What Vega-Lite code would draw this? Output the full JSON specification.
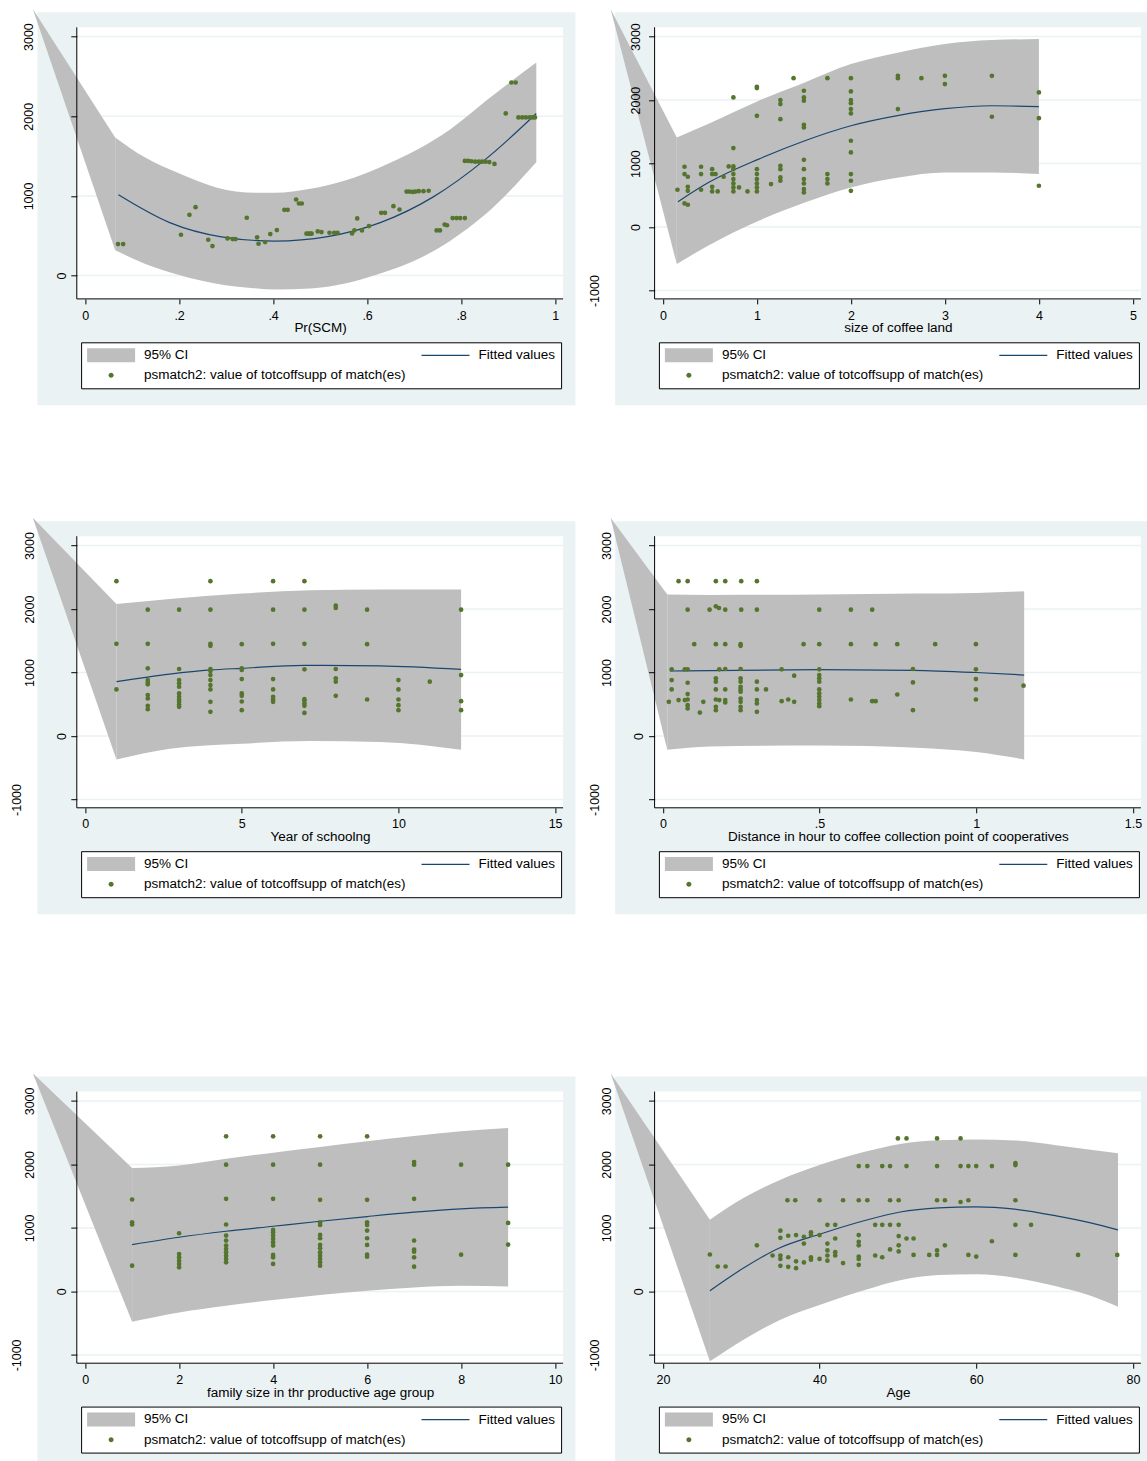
{
"$schema": "https://vega.github.io/schema/vega-lite/v6.json",
"background": "white",
"padding": {"left": 10.4, "top": 8.3, "right": 0, "bottom": 0},
"config": {
  "font": "Liberation Sans",
  "view": {"fill": "#eaf2f3", "stroke": null},
  "axis": {"domain": false, "grid": false, "ticks": true, "tickColor": "black", "tickWidth": 1, "labelColor": "black", "labelFont": "Liberation Sans", "labelFontSize": 12.5, "labelFlush": false, "labelOverlap": false, "labelBound": false, "titleFont": "Liberation Sans", "titleFontSize": 13.5, "titleFontWeight": "normal", "titleColor": "black"},
  "axisX": {"tickSize": 5, "labelPadding": 5.2, "labelAngle": 0, "labelBaseline": "top", "labelAlign": "center", "offset": -106.4, "titleX": 282.7, "titleY": 22, "titleAlign": "center", "titleBaseline": "top"},
  "axisY": {"tickSize": 6, "labelAngle": 270, "labelAlign": "center", "labelBaseline": "alphabetic", "offset": -39.4},
  "legend": {"title": null, "orient": "none", "direction": "horizontal", "legendX": 43.7, "legendY": 330, "columns": 2, "columnPadding": 15.4, "rowPadding": 5.3, "padding": 6, "fillColor": "white", "strokeColor": "black", "cornerRadius": 0, "symbolSize": 100, "symbolStrokeWidth": 0, "symbolOpacity": 1, "labelOffset": 43.5, "labelFont": "Liberation Sans", "labelFontSize": 13.5, "labelColor": "black", "labelLimit": 0, "labelBaseline": "middle"}
},
"spacing": 158.3,
"resolve": {"scale": {"color": "independent"}, "legend": {"color": "independent"}},
"vconcat": [
{
"spacing": 111.9,
"resolve": {"scale": {"color": "independent"}, "legend": {"color": "independent"}},
"vconcat": [
{
"hconcat": [
{
"width": 538, "height": 393,
"data": {"values": [{}]},
"layer": [
{"mark": {"type": "rect", "fill": "white"},
 "encoding": {
  "x": {"datum": -0.01766, "type": "quantitative", "scale": {"domain": [-0.10149, 1.04319], "nice": false, "zero": false},
        "axis": {"zindex": 1, "values": [0, 0.2, 0.4, 0.6, 0.8, 1], "title": "Pr(SCM)", "labelExpr": "datum.value == 0 ? '0' : datum.value == 1 ? '1' : '.' + round(datum.value * 10)"}},
  "x2": {"datum": 1.01702},
  "y": {"datum": -292.5, "type": "quantitative", "scale": {"domain": [-1627.97, 3304.9], "nice": false, "zero": false},
        "axis": {"zindex": 1, "values": [0, 1000, 2000, 3000], "title": null, "labelExpr": "toString(datum.value)", "labelPadding": {"expr": "datum.value == 0 ? 5.7 : 38.7"}}},
  "y2": {"datum": 3116.6}}},
{"data": {"values": [{"v": 0}, {"v": 1000}, {"v": 2000}, {"v": 3000}]},
 "mark": {"type": "rule", "color": "#eaf2f3", "strokeWidth": 1.5},
 "encoding": {"x": {"datum": -0.01766, "type": "quantitative"}, "x2": {"datum": 1.01702}, "y": {"field": "v", "type": "quantitative"}}},
{"data": {"values": [{"x": -0.11128, "lo": 3347.6, "hi": 3347.6}, {"x": 0.064, "lo": 317, "hi": 1735}]},
 "mark": {"type": "area", "opacity": 1},
 "encoding": {"x": {"field": "x", "type": "quantitative"}, "y": {"field": "hi", "type": "quantitative"}, "y2": {"field": "lo"},
  "color": {"datum": "95% CI", "type": "nominal",
   "scale": {"domain": ["95% CI", "Fitted values", "psmatch2: value of totcoffsupp of match(es)"], "range": ["#bebebe", "#1a476f", "#55752f"]},
   "legend": {"symbolType": {"expr": "datum.value === '95% CI' ? 'M-1.35,-1.4H8.25V1.4H-1.35Z' : datum.value === 'Fitted values' ? 'M-1.35,-0.12H8.25V0.12H-1.35Z' : 'M3.95,0A0.5,0.5,0,1,1,2.95,0A0.5,0.5,0,1,1,3.95,0Z'"}, "symbolFillColor": {"expr": "datum.value === '95% CI' ? '#bebebe' : datum.value === 'Fitted values' ? '#1a476f' : '#55752f'"}}}}},
{"data": {"values": [{"x":0.064,"lo":317,"hi":1735},{"x":0.127,"lo":150,"hi":1485},{"x":0.202,"lo":4,"hi":1277},{"x":0.277,"lo":-100,"hi":1110},{"x":0.366,"lo":-163,"hi":1039},{"x":0.404,"lo":-175,"hi":1039},{"x":0.479,"lo":-163,"hi":1089},{"x":0.553,"lo":-100,"hi":1193},{"x":0.628,"lo":25,"hi":1360},{"x":0.703,"lo":192,"hi":1569},{"x":0.778,"lo":442,"hi":1840},{"x":0.853,"lo":776,"hi":2194},{"x":0.96,"lo":1423,"hi":2674}]},
 "mark": {"type": "area", "interpolate": "monotone", "opacity": 1},
 "encoding": {"x": {"field": "x", "type": "quantitative"}, "y": {"field": "hi", "type": "quantitative"}, "y2": {"field": "lo"}, "color": {"datum": "95% CI", "type": "nominal"}}},
{"data": {"values": [{"x":0.071,"y":1014},{"x":0.18,"y":665},{"x":0.29,"y":487},{"x":0.404,"y":434},{"x":0.516,"y":490},{"x":0.628,"y":665},{"x":0.74,"y":985},{"x":0.853,"y":1465},{"x":0.96,"y":2035}]},
 "mark": {"type": "line", "interpolate": "monotone", "strokeWidth": 1.2},
 "encoding": {"x": {"field": "x", "type": "quantitative"}, "y": {"field": "y", "type": "quantitative"}, "color": {"datum": "Fitted values", "type": "nominal"}}},
{"data": {"values": [{"x":0.070,"y":396},{"x":0.081,"y":396},{"x":0.204,"y":513},{"x":0.222,"y":763},{"x":0.235,"y":859},{"x":0.262,"y":450},{"x":0.271,"y":371},{"x":0.303,"y":467},{"x":0.314,"y":459},{"x":0.320,"y":459},{"x":0.344,"y":726},{"x":0.366,"y":480},{"x":0.369,"y":400},{"x":0.383,"y":421},{"x":0.394,"y":521},{"x":0.408,"y":572},{"x":0.424,"y":826},{"x":0.431,"y":826},{"x":0.449,"y":955},{"x":0.455,"y":905},{"x":0.461,"y":905},{"x":0.471,"y":526},{"x":0.475,"y":526},{"x":0.479,"y":526},{"x":0.482,"y":526},{"x":0.495,"y":555},{"x":0.503,"y":546},{"x":0.520,"y":538},{"x":0.530,"y":538},{"x":0.537,"y":538},{"x":0.568,"y":530},{"x":0.573,"y":567},{"x":0.579,"y":718},{"x":0.589,"y":567},{"x":0.604,"y":622},{"x":0.630,"y":788},{"x":0.638,"y":788},{"x":0.656,"y":872},{"x":0.669,"y":830},{"x":0.684,"y":1055},{"x":0.690,"y":1055},{"x":0.697,"y":1050},{"x":0.703,"y":1055},{"x":0.710,"y":1060},{"x":0.720,"y":1060},{"x":0.731,"y":1065},{"x":0.748,"y":567},{"x":0.755,"y":567},{"x":0.765,"y":640},{"x":0.770,"y":632},{"x":0.782,"y":722},{"x":0.790,"y":722},{"x":0.798,"y":722},{"x":0.808,"y":722},{"x":0.808,"y":1440},{"x":0.815,"y":1440},{"x":0.822,"y":1435},{"x":0.830,"y":1430},{"x":0.838,"y":1430},{"x":0.845,"y":1430},{"x":0.852,"y":1430},{"x":0.860,"y":1425},{"x":0.871,"y":1402},{"x":0.895,"y":2036},{"x":0.907,"y":2424},{"x":0.916,"y":2424},{"x":0.922,"y":1986},{"x":0.930,"y":1986},{"x":0.938,"y":1986},{"x":0.946,"y":1986},{"x":0.952,"y":1986},{"x":0.957,"y":1986}]},
 "mark": {"type": "point", "filled": true, "size": 22, "opacity": 1},
 "encoding": {"x": {"field": "x", "type": "quantitative"}, "y": {"field": "y", "type": "quantitative"}, "color": {"datum": "psmatch2: value of totcoffsupp of match(es)", "type": "nominal"}}},
{"mark": {"type": "rule", "color": "black", "strokeWidth": 1},
 "encoding": {"x": {"datum": -0.01766, "type": "quantitative"}, "y": {"datum": -292.5, "type": "quantitative"}, "y2": {"datum": 3116.6}}},
{"mark": {"type": "rule", "color": "black", "strokeWidth": 1},
 "encoding": {"x": {"datum": -0.01766, "type": "quantitative"}, "x2": {"datum": 1.01702}, "y": {"datum": -292.5, "type": "quantitative"}}}
]
},
{
"width": 538, "height": 393,
"data": {"values": [{}]},
"layer": [
{"mark": {"type": "rect", "fill": "white"},
 "encoding": {
  "x": {"datum": -0.0883, "type": "quantitative", "scale": {"domain": [-0.50745, 5.21595], "nice": false, "zero": false},
        "axis": {"zindex": 1, "values": [0, 1, 2, 3, 4, 5], "title": "size of coffee land", "labelExpr": "toString(datum.value)"}},
  "x2": {"datum": 5.0851},
  "y": {"datum": -1130.7, "type": "quantitative", "scale": {"domain": [-2806.3, 3382.7], "nice": false, "zero": false},
        "axis": {"zindex": 1, "values": [-1000, 0, 1000, 2000, 3000], "title": null, "labelExpr": "toString(datum.value)", "labelPadding": {"expr": "datum.value < 0 ? 50.3 : 9.3"}}},
  "y2": {"datum": 3146.5}}},
{"data": {"values": [{"v": -1000}, {"v": 0}, {"v": 1000}, {"v": 2000}, {"v": 3000}]},
 "mark": {"type": "rule", "color": "#eaf2f3", "strokeWidth": 1.5},
 "encoding": {"x": {"datum": -0.0883, "type": "quantitative"}, "x2": {"datum": 5.0851}, "y": {"field": "v", "type": "quantitative"}}},
{"data": {"values": [{"x": -0.5564, "lo": 3436.2, "hi": 3436.2}, {"x": 0.148, "lo": -583, "hi": 1412}]},
 "mark": {"type": "area", "opacity": 1},
 "encoding": {"x": {"field": "x", "type": "quantitative"}, "y": {"field": "hi", "type": "quantitative"}, "y2": {"field": "lo"},
  "color": {"datum": "95% CI", "type": "nominal",
   "scale": {"domain": ["95% CI", "Fitted values", "psmatch2: value of totcoffsupp of match(es)"], "range": ["#bebebe", "#1a476f", "#55752f"]},
   "legend": {"symbolType": {"expr": "datum.value === '95% CI' ? 'M-1.35,-1.4H8.25V1.4H-1.35Z' : datum.value === 'Fitted values' ? 'M-1.35,-0.12H8.25V0.12H-1.35Z' : 'M3.95,0A0.5,0.5,0,1,1,2.95,0A0.5,0.5,0,1,1,3.95,0Z'"}, "symbolFillColor": {"expr": "datum.value === '95% CI' ? '#bebebe' : datum.value === 'Fitted values' ? '#1a476f' : '#55752f'"}}}}},
{"data": {"values": [{"x":0.148,"lo":-583,"hi":1412},{"x":0.48,"lo":-294,"hi":1622},{"x":1.02,"lo":100,"hi":1990},{"x":1.51,"lo":388,"hi":2278},{"x":2.0,"lo":625,"hi":2567},{"x":2.51,"lo":782,"hi":2751},{"x":3.0,"lo":861,"hi":2882},{"x":3.5,"lo":861,"hi":2945},{"x":4.0,"lo":835,"hi":2961}]},
 "mark": {"type": "area", "interpolate": "monotone", "opacity": 1},
 "encoding": {"x": {"field": "x", "type": "quantitative"}, "y": {"field": "hi", "type": "quantitative"}, "y2": {"field": "lo"}, "color": {"datum": "95% CI", "type": "nominal"}}},
{"data": {"values": [{"x":0.16,"y":399},{"x":0.48,"y":697},{"x":1.02,"y":1071},{"x":1.51,"y":1360},{"x":2.0,"y":1596},{"x":2.51,"y":1760},{"x":3.0,"y":1865},{"x":3.5,"y":1911},{"x":4.0,"y":1898}]},
 "mark": {"type": "line", "interpolate": "monotone", "strokeWidth": 1.2},
 "encoding": {"x": {"field": "x", "type": "quantitative"}, "y": {"field": "y", "type": "quantitative"}, "color": {"datum": "Fitted values", "type": "nominal"}}},
{"data": {"values": [{"x":0.155,"y":588},{"x":0.23,"y":950},{"x":0.23,"y":835},{"x":0.265,"y":793},{"x":0.23,"y":373},{"x":0.265,"y":352},{"x":0.265,"y":635},{"x":0.265,"y":572},{"x":0.406,"y":950},{"x":0.406,"y":835},{"x":0.406,"y":588},{"x":0.524,"y":913},{"x":0.524,"y":835},{"x":0.524,"y":635},{"x":0.524,"y":562},{"x":0.56,"y":835},{"x":0.583,"y":562},{"x":0.646,"y":793},{"x":0.70,"y":955},{"x":0.75,"y":2042},{"x":0.75,"y":1244},{"x":0.75,"y":955},{"x":0.75,"y":913},{"x":0.75,"y":835},{"x":0.75,"y":756},{"x":0.75,"y":688},{"x":0.75,"y":625},{"x":0.75,"y":562},{"x":0.81,"y":625},{"x":0.9,"y":562},{"x":1.0,"y":2190},{"x":1.0,"y":2210},{"x":1.0,"y":1753},{"x":1.0,"y":913},{"x":1.0,"y":835},{"x":1.0,"y":756},{"x":1.0,"y":688},{"x":1.0,"y":625},{"x":1.0,"y":562},{"x":1.15,"y":677},{"x":1.25,"y":2000},{"x":1.25,"y":1937},{"x":1.25,"y":1700},{"x":1.25,"y":966},{"x":1.25,"y":913},{"x":1.25,"y":782},{"x":1.25,"y":730},{"x":1.39,"y":2346},{"x":1.5,"y":2147},{"x":1.5,"y":2042},{"x":1.5,"y":1990},{"x":1.5,"y":1611},{"x":1.5,"y":1570},{"x":1.5,"y":1060},{"x":1.5,"y":913},{"x":1.5,"y":756},{"x":1.5,"y":688},{"x":1.5,"y":600},{"x":1.5,"y":546},{"x":1.75,"y":2346},{"x":1.75,"y":835},{"x":1.75,"y":756},{"x":1.75,"y":688},{"x":2.0,"y":2346},{"x":2.0,"y":2136},{"x":2.0,"y":2000},{"x":2.0,"y":1950},{"x":2.0,"y":1860},{"x":2.0,"y":1790},{"x":2.0,"y":1360},{"x":2.0,"y":1176},{"x":2.0,"y":835},{"x":2.0,"y":730},{"x":2.0,"y":572},{"x":2.5,"y":2383},{"x":2.5,"y":2346},{"x":2.5,"y":1858},{"x":2.75,"y":2346},{"x":3.0,"y":2383},{"x":3.0,"y":2252},{"x":3.5,"y":2383},{"x":3.5,"y":1738},{"x":4.0,"y":2121},{"x":4.0,"y":1716},{"x":4.0,"y":651}]},
 "mark": {"type": "point", "filled": true, "size": 22, "opacity": 1},
 "encoding": {"x": {"field": "x", "type": "quantitative"}, "y": {"field": "y", "type": "quantitative"}, "color": {"datum": "psmatch2: value of totcoffsupp of match(es)", "type": "nominal"}}},
{"mark": {"type": "rule", "color": "black", "strokeWidth": 1},
 "encoding": {"x": {"datum": -0.0883, "type": "quantitative"}, "y": {"datum": -1130.7, "type": "quantitative"}, "y2": {"datum": 3146.5}}},
{"mark": {"type": "rule", "color": "black", "strokeWidth": 1},
 "encoding": {"x": {"datum": -0.0883, "type": "quantitative"}, "x2": {"datum": 5.0851}, "y": {"datum": -1130.7, "type": "quantitative"}}}
]
}
],
"spacing": 12.8,
"resolve": {"scale": {"color": "independent"}, "legend": {"color": "independent"}}
},
{
"hconcat": [
{
"width": 538, "height": 393,
"data": {"values": [{}]},
"layer": [
{"mark": {"type": "rect", "fill": "white"},
 "encoding": {
  "x": {"datum": -0.2649, "type": "quantitative", "scale": {"domain": [-1.52235, 15.64785], "nice": false, "zero": false},
        "axis": {"zindex": 1, "values": [0, 5, 10, 15], "title": "Year of schoolng", "labelExpr": "toString(datum.value)"}},
  "x2": {"datum": 15.2553},
  "y": {"datum": -1130.7, "type": "quantitative", "scale": {"domain": [-2806.3, 3382.7], "nice": false, "zero": false},
        "axis": {"zindex": 1, "values": [-1000, 0, 1000, 2000, 3000], "title": null, "labelExpr": "toString(datum.value)", "labelPadding": {"expr": "datum.value == 0 ? 5.7 : datum.value < 0 ? 50.3 : 37.7"}}},
  "y2": {"datum": 3146.5}}},
{"data": {"values": [{"v": -1000}, {"v": 0}, {"v": 1000}, {"v": 2000}, {"v": 3000}]},
 "mark": {"type": "rule", "color": "#eaf2f3", "strokeWidth": 1.5},
 "encoding": {"x": {"datum": -0.2649, "type": "quantitative"}, "x2": {"datum": 15.2553}, "y": {"field": "v", "type": "quantitative"}}},
{"data": {"values": [{"x": -1.6692, "lo": 3436.2, "hi": 3436.2}, {"x": 1, "lo": -369, "hi": 2079}]},
 "mark": {"type": "area", "opacity": 1},
 "encoding": {"x": {"field": "x", "type": "quantitative"}, "y": {"field": "hi", "type": "quantitative"}, "y2": {"field": "lo"},
  "color": {"datum": "95% CI", "type": "nominal",
   "scale": {"domain": ["95% CI", "Fitted values", "psmatch2: value of totcoffsupp of match(es)"], "range": ["#bebebe", "#1a476f", "#55752f"]},
   "legend": {"symbolType": {"expr": "datum.value === '95% CI' ? 'M-1.35,-1.4H8.25V1.4H-1.35Z' : datum.value === 'Fitted values' ? 'M-1.35,-0.12H8.25V0.12H-1.35Z' : 'M3.95,0A0.5,0.5,0,1,1,2.95,0A0.5,0.5,0,1,1,3.95,0Z'"}, "symbolFillColor": {"expr": "datum.value === '95% CI' ? '#bebebe' : datum.value === 'Fitted values' ? '#1a476f' : '#55752f'"}}}}},
{"data": {"values": [{"x":1,"lo":-369,"hi":2079},{"x":2.7,"lo":-200,"hi":2158},{"x":5,"lo":-121,"hi":2243},{"x":7.2,"lo":-79,"hi":2296},{"x":9.4,"lo":-95,"hi":2306},{"x":12,"lo":-216,"hi":2306}]},
 "mark": {"type": "area", "interpolate": "monotone", "opacity": 1},
 "encoding": {"x": {"field": "x", "type": "quantitative"}, "y": {"field": "hi", "type": "quantitative"}, "y2": {"field": "lo"}, "color": {"datum": "95% CI", "type": "nominal"}}},
{"data": {"values": [{"x":1,"y":855},{"x":2.7,"y":975},{"x":4,"y":1040},{"x":5,"y":1066},{"x":7,"y":1112},{"x":9.4,"y":1104},{"x":12,"y":1048}]},
 "mark": {"type": "line", "interpolate": "monotone", "strokeWidth": 1.2},
 "encoding": {"x": {"field": "x", "type": "quantitative"}, "y": {"field": "y", "type": "quantitative"}, "color": {"datum": "Fitted values", "type": "nominal"}}},
{"data": {"values": [{"x":1,"y":2438},{"x":1,"y":1451},{"x":1,"y":733},{"x":2,"y":1989},{"x":2,"y":1451},{"x":2,"y":1066},{"x":2,"y":881},{"x":2,"y":844},{"x":2,"y":813},{"x":2,"y":644},{"x":2,"y":591},{"x":2,"y":475},{"x":2,"y":422},{"x":3,"y":1989},{"x":3,"y":1055},{"x":3,"y":881},{"x":3,"y":829},{"x":3,"y":776},{"x":3,"y":670},{"x":3,"y":617},{"x":3,"y":575},{"x":3,"y":538},{"x":3,"y":496},{"x":3,"y":459},{"x":4,"y":2438},{"x":4,"y":1989},{"x":4,"y":1451},{"x":4,"y":1420},{"x":4,"y":1055},{"x":4,"y":1024},{"x":4,"y":960},{"x":4,"y":881},{"x":4,"y":802},{"x":4,"y":733},{"x":4,"y":538},{"x":4,"y":380},{"x":5,"y":1446},{"x":5,"y":1066},{"x":5,"y":1040},{"x":5,"y":897},{"x":5,"y":670},{"x":5,"y":633},{"x":5,"y":543},{"x":5,"y":406},{"x":6,"y":2438},{"x":6,"y":1989},{"x":6,"y":1451},{"x":6,"y":897},{"x":6,"y":733},{"x":6,"y":617},{"x":6,"y":575},{"x":6,"y":538},{"x":7,"y":2438},{"x":7,"y":1989},{"x":7,"y":1451},{"x":7,"y":1050},{"x":7,"y":580},{"x":7,"y":554},{"x":7,"y":512},{"x":7,"y":475},{"x":7,"y":364},{"x":8,"y":2053},{"x":8,"y":2016},{"x":8,"y":1055},{"x":8,"y":908},{"x":8,"y":855},{"x":8,"y":633},{"x":9,"y":1989},{"x":9,"y":1446},{"x":9,"y":575},{"x":10,"y":881},{"x":10,"y":733},{"x":10,"y":575},{"x":10,"y":485},{"x":10,"y":406},{"x":11,"y":855},{"x":12,"y":1989},{"x":12,"y":960},{"x":12,"y":549},{"x":12,"y":406}]},
 "mark": {"type": "point", "filled": true, "size": 22, "opacity": 1},
 "encoding": {"x": {"field": "x", "type": "quantitative"}, "y": {"field": "y", "type": "quantitative"}, "color": {"datum": "psmatch2: value of totcoffsupp of match(es)", "type": "nominal"}}},
{"mark": {"type": "rule", "color": "black", "strokeWidth": 1},
 "encoding": {"x": {"datum": -0.2649, "type": "quantitative"}, "y": {"datum": -1130.7, "type": "quantitative"}, "y2": {"datum": 3146.5}}},
{"mark": {"type": "rule", "color": "black", "strokeWidth": 1},
 "encoding": {"x": {"datum": -0.2649, "type": "quantitative"}, "x2": {"datum": 15.2553}, "y": {"datum": -1130.7, "type": "quantitative"}}}
]
},
{
"width": 538, "height": 393,
"data": {"values": [{}]},
"layer": [
{"mark": {"type": "rect", "fill": "white"},
 "encoding": {
  "x": {"datum": -0.02649, "type": "quantitative", "scale": {"domain": [-0.152235, 1.564785], "nice": false, "zero": false},
        "axis": {"zindex": 1, "values": [0, 0.5, 1, 1.5], "title": "Distance in hour to coffee collection point of cooperatives", "labelExpr": "datum.value == 0.5 ? '.5' : toString(datum.value)"}},
  "x2": {"datum": 1.52553},
  "y": {"datum": -1130.7, "type": "quantitative", "scale": {"domain": [-2806.3, 3382.7], "nice": false, "zero": false},
        "axis": {"zindex": 1, "values": [-1000, 0, 1000, 2000, 3000], "title": null, "labelExpr": "toString(datum.value)", "labelPadding": {"expr": "datum.value == 0 ? 5.7 : datum.value < 0 ? 50.3 : 37.7"}}},
  "y2": {"datum": 3146.5}}},
{"data": {"values": [{"v": -1000}, {"v": 0}, {"v": 1000}, {"v": 2000}, {"v": 3000}]},
 "mark": {"type": "rule", "color": "#eaf2f3", "strokeWidth": 1.5},
 "encoding": {"x": {"datum": -0.02649, "type": "quantitative"}, "x2": {"datum": 1.52553}, "y": {"field": "v", "type": "quantitative"}}},
{"data": {"values": [{"x": -0.16692, "lo": 3436.2, "hi": 3436.2}, {"x": 0.014, "lo": -216, "hi": 2227}]},
 "mark": {"type": "area", "opacity": 1},
 "encoding": {"x": {"field": "x", "type": "quantitative"}, "y": {"field": "hi", "type": "quantitative"}, "y2": {"field": "lo"},
  "color": {"datum": "95% CI", "type": "nominal",
   "scale": {"domain": ["95% CI", "Fitted values", "psmatch2: value of totcoffsupp of match(es)"], "range": ["#bebebe", "#1a476f", "#55752f"]},
   "legend": {"symbolType": {"expr": "datum.value === '95% CI' ? 'M-1.35,-1.4H8.25V1.4H-1.35Z' : datum.value === 'Fitted values' ? 'M-1.35,-0.12H8.25V0.12H-1.35Z' : 'M3.95,0A0.5,0.5,0,1,1,2.95,0A0.5,0.5,0,1,1,3.95,0Z'"}, "symbolFillColor": {"expr": "datum.value === '95% CI' ? '#bebebe' : datum.value === 'Fitted values' ? '#1a476f' : '#55752f'"}}}}},
{"data": {"values": [{"x":0.014,"lo":-216,"hi":2227},{"x":0.149,"lo":-164,"hi":2222},{"x":0.5,"lo":-148,"hi":2227},{"x":0.81,"lo":-185,"hi":2243},{"x":1.0,"lo":-253,"hi":2253},{"x":1.153,"lo":-369,"hi":2280}]},
 "mark": {"type": "area", "interpolate": "monotone", "opacity": 1},
 "encoding": {"x": {"field": "x", "type": "quantitative"}, "y": {"field": "hi", "type": "quantitative"}, "y2": {"field": "lo"}, "color": {"datum": "95% CI", "type": "nominal"}}},
{"data": {"values": [{"x":0.022,"y":1024},{"x":0.5,"y":1045},{"x":0.8,"y":1035},{"x":1.0,"y":1000},{"x":1.153,"y":960}]},
 "mark": {"type": "line", "interpolate": "monotone", "strokeWidth": 1.2},
 "encoding": {"x": {"field": "x", "type": "quantitative"}, "y": {"field": "y", "type": "quantitative"}, "color": {"datum": "Fitted values", "type": "nominal"}}},
{"data": {"values": [{"x":0.05,"y":2438},{"x":0.079,"y":2438},{"x":0.169,"y":2438},{"x":0.199,"y":2438},{"x":0.25,"y":2438},{"x":0.30,"y":2438},{"x":0.079,"y":1989},{"x":0.149,"y":1989},{"x":0.169,"y":2042},{"x":0.179,"y":2016},{"x":0.199,"y":1989},{"x":0.25,"y":1989},{"x":0.30,"y":1989},{"x":0.499,"y":1989},{"x":0.6,"y":1989},{"x":0.668,"y":1989},{"x":0.1,"y":1446},{"x":0.169,"y":1446},{"x":0.199,"y":1446},{"x":0.248,"y":1446},{"x":0.248,"y":1420},{"x":0.449,"y":1446},{"x":0.499,"y":1446},{"x":0.6,"y":1446},{"x":0.679,"y":1446},{"x":0.748,"y":1446},{"x":0.869,"y":1446},{"x":0.999,"y":1446},{"x":0.028,"y":1050},{"x":0.07,"y":1050},{"x":0.079,"y":1050},{"x":0.18,"y":1050},{"x":0.199,"y":1055},{"x":0.248,"y":1055},{"x":0.379,"y":1050},{"x":0.499,"y":1050},{"x":0.798,"y":1055},{"x":0.999,"y":1050},{"x":0.419,"y":950},{"x":0.499,"y":960},{"x":0.499,"y":908},{"x":0.499,"y":855},{"x":0.028,"y":881},{"x":0.079,"y":839},{"x":0.169,"y":908},{"x":0.169,"y":855},{"x":0.248,"y":908},{"x":0.248,"y":855},{"x":0.30,"y":855},{"x":0.798,"y":844},{"x":0.999,"y":897},{"x":0.028,"y":733},{"x":0.079,"y":660},{"x":0.169,"y":733},{"x":0.199,"y":733},{"x":0.248,"y":776},{"x":0.248,"y":733},{"x":0.248,"y":697},{"x":0.30,"y":733},{"x":0.329,"y":733},{"x":0.499,"y":733},{"x":0.499,"y":670},{"x":0.499,"y":617},{"x":0.748,"y":654},{"x":0.999,"y":733},{"x":0.019,"y":538},{"x":0.05,"y":565},{"x":0.07,"y":565},{"x":0.079,"y":575},{"x":0.129,"y":538},{"x":0.169,"y":575},{"x":0.18,"y":565},{"x":0.199,"y":565},{"x":0.199,"y":528},{"x":0.248,"y":591},{"x":0.248,"y":538},{"x":0.30,"y":565},{"x":0.30,"y":512},{"x":0.379,"y":549},{"x":0.4,"y":575},{"x":0.419,"y":538},{"x":0.499,"y":565},{"x":0.499,"y":512},{"x":0.499,"y":470},{"x":0.6,"y":575},{"x":0.668,"y":549},{"x":0.679,"y":549},{"x":0.999,"y":575},{"x":0.079,"y":485},{"x":0.079,"y":433},{"x":0.118,"y":369},{"x":0.169,"y":459},{"x":0.169,"y":406},{"x":0.248,"y":459},{"x":0.248,"y":406},{"x":0.30,"y":380},{"x":0.798,"y":406},{"x":1.151,"y":792}]},
 "mark": {"type": "point", "filled": true, "size": 22, "opacity": 1},
 "encoding": {"x": {"field": "x", "type": "quantitative"}, "y": {"field": "y", "type": "quantitative"}, "color": {"datum": "psmatch2: value of totcoffsupp of match(es)", "type": "nominal"}}},
{"mark": {"type": "rule", "color": "black", "strokeWidth": 1},
 "encoding": {"x": {"datum": -0.02649, "type": "quantitative"}, "y": {"datum": -1130.7, "type": "quantitative"}, "y2": {"datum": 3146.5}}},
{"mark": {"type": "rule", "color": "black", "strokeWidth": 1},
 "encoding": {"x": {"datum": -0.02649, "type": "quantitative"}, "x2": {"datum": 1.52553}, "y": {"datum": -1130.7, "type": "quantitative"}}}
]
}
],
"spacing": 12.8,
"resolve": {"scale": {"color": "independent"}, "legend": {"color": "independent"}}
}
]
},
{
"hconcat": [
{
"width": 538, "height": 393,
"data": {"values": [{}]},
"layer": [
{"mark": {"type": "rect", "fill": "white"},
 "encoding": {
  "x": {"datum": -0.1766, "type": "quantitative", "scale": {"domain": [-1.0149, 10.4319], "nice": false, "zero": false},
        "axis": {"zindex": 1, "values": [0, 2, 4, 6, 8, 10], "title": "family size in thr productive age group", "labelExpr": "toString(datum.value)"}},
  "x2": {"datum": 10.1702},
  "y": {"datum": -1130.7, "type": "quantitative", "scale": {"domain": [-2806.3, 3382.7], "nice": false, "zero": false},
        "axis": {"zindex": 1, "values": [-1000, 0, 1000, 2000, 3000], "title": null, "labelExpr": "toString(datum.value)", "labelPadding": {"expr": "datum.value == 0 ? 5.7 : datum.value < 0 ? 50.3 : 37.7"}}},
  "y2": {"datum": 3146.5}}},
{"data": {"values": [{"v": -1000}, {"v": 0}, {"v": 1000}, {"v": 2000}, {"v": 3000}]},
 "mark": {"type": "rule", "color": "#eaf2f3", "strokeWidth": 1.5},
 "encoding": {"x": {"datum": -0.1766, "type": "quantitative"}, "x2": {"datum": 10.1702}, "y": {"field": "v", "type": "quantitative"}}},
{"data": {"values": [{"x": -1.1128, "lo": 3436.2, "hi": 3436.2}, {"x": 1, "lo": -479, "hi": 1942}]},
 "mark": {"type": "area", "opacity": 1},
 "encoding": {"x": {"field": "x", "type": "quantitative"}, "y": {"field": "hi", "type": "quantitative"}, "y2": {"field": "lo"},
  "color": {"datum": "95% CI", "type": "nominal",
   "scale": {"domain": ["95% CI", "Fitted values", "psmatch2: value of totcoffsupp of match(es)"], "range": ["#bebebe", "#1a476f", "#55752f"]},
   "legend": {"symbolType": {"expr": "datum.value === '95% CI' ? 'M-1.35,-1.4H8.25V1.4H-1.35Z' : datum.value === 'Fitted values' ? 'M-1.35,-0.12H8.25V0.12H-1.35Z' : 'M3.95,0A0.5,0.5,0,1,1,2.95,0A0.5,0.5,0,1,1,3.95,0Z'"}, "symbolFillColor": {"expr": "datum.value === '95% CI' ? '#bebebe' : datum.value === 'Fitted values' ? '#1a476f' : '#55752f'"}}}}},
{"data": {"values": [{"x":1,"lo":-479,"hi":1942},{"x":2,"lo":-332,"hi":1984},{"x":3,"lo":-226,"hi":2089},{"x":4,"lo":-137,"hi":2184},{"x":5,"lo":-58,"hi":2274},{"x":6,"lo":11,"hi":2363},{"x":7,"lo":63,"hi":2447},{"x":8,"lo":89,"hi":2521},{"x":9,"lo":79,"hi":2574}]},
 "mark": {"type": "area", "interpolate": "monotone", "opacity": 1},
 "encoding": {"x": {"field": "x", "type": "quantitative"}, "y": {"field": "hi", "type": "quantitative"}, "y2": {"field": "lo"}, "color": {"datum": "95% CI", "type": "nominal"}}},
{"data": {"values": [{"x":1,"y":737},{"x":2,"y":853},{"x":3,"y":947},{"x":4,"y":1026},{"x":5,"y":1105},{"x":6,"y":1179},{"x":7,"y":1247},{"x":8,"y":1300},{"x":9,"y":1326}]},
 "mark": {"type": "line", "interpolate": "monotone", "strokeWidth": 1.2},
 "encoding": {"x": {"field": "x", "type": "quantitative"}, "y": {"field": "y", "type": "quantitative"}, "color": {"datum": "Fitted values", "type": "nominal"}}},
{"data": {"values": [{"x":1,"y":1447},{"x":1,"y":1089},{"x":1,"y":1053},{"x":1,"y":405},{"x":2,"y":916},{"x":2,"y":589},{"x":2,"y":537},{"x":2,"y":484},{"x":2,"y":432},{"x":2,"y":379},{"x":3,"y":2442},{"x":3,"y":1995},{"x":3,"y":1458},{"x":3,"y":1053},{"x":3,"y":879},{"x":3,"y":800},{"x":3,"y":721},{"x":3,"y":668},{"x":3,"y":616},{"x":3,"y":563},{"x":3,"y":511},{"x":3,"y":458},{"x":4,"y":2442},{"x":4,"y":1995},{"x":4,"y":1458},{"x":4,"y":968},{"x":4,"y":932},{"x":4,"y":879},{"x":4,"y":826},{"x":4,"y":774},{"x":4,"y":721},{"x":4,"y":574},{"x":4,"y":537},{"x":4,"y":432},{"x":5,"y":2442},{"x":5,"y":1995},{"x":5,"y":1442},{"x":5,"y":1089},{"x":5,"y":1047},{"x":5,"y":889},{"x":5,"y":837},{"x":5,"y":732},{"x":5,"y":679},{"x":5,"y":616},{"x":5,"y":563},{"x":5,"y":511},{"x":5,"y":458},{"x":5,"y":405},{"x":6,"y":2442},{"x":6,"y":1442},{"x":6,"y":1089},{"x":6,"y":1047},{"x":6,"y":958},{"x":6,"y":837},{"x":6,"y":732},{"x":6,"y":579},{"x":6,"y":547},{"x":7,"y":2037},{"x":7,"y":1995},{"x":7,"y":1458},{"x":7,"y":800},{"x":7,"y":658},{"x":7,"y":626},{"x":7,"y":537},{"x":7,"y":389},{"x":8,"y":1995},{"x":8,"y":579},{"x":9,"y":1995},{"x":9,"y":1079},{"x":9,"y":737}]},
 "mark": {"type": "point", "filled": true, "size": 22, "opacity": 1},
 "encoding": {"x": {"field": "x", "type": "quantitative"}, "y": {"field": "y", "type": "quantitative"}, "color": {"datum": "psmatch2: value of totcoffsupp of match(es)", "type": "nominal"}}},
{"mark": {"type": "rule", "color": "black", "strokeWidth": 1},
 "encoding": {"x": {"datum": -0.1766, "type": "quantitative"}, "y": {"datum": -1130.7, "type": "quantitative"}, "y2": {"datum": 3146.5}}},
{"mark": {"type": "rule", "color": "black", "strokeWidth": 1},
 "encoding": {"x": {"datum": -0.1766, "type": "quantitative"}, "x2": {"datum": 10.1702}, "y": {"datum": -1130.7, "type": "quantitative"}}}
]
},
{
"width": 538, "height": 393,
"data": {"values": [{}]},
"layer": [
{"mark": {"type": "rect", "fill": "white"},
 "encoding": {
  "x": {"datum": 18.9404, "type": "quantitative", "scale": {"domain": [13.9106, 82.5914], "nice": false, "zero": false},
        "axis": {"zindex": 1, "values": [20, 40, 60, 80], "title": "Age", "labelExpr": "toString(datum.value)"}},
  "x2": {"datum": 81.0212},
  "y": {"datum": -1130.7, "type": "quantitative", "scale": {"domain": [-2806.3, 3382.7], "nice": false, "zero": false},
        "axis": {"zindex": 1, "values": [-1000, 0, 1000, 2000, 3000], "title": null, "labelExpr": "toString(datum.value)", "labelPadding": {"expr": "datum.value == 0 ? 5.7 : datum.value < 0 ? 50.3 : 37.7"}}},
  "y2": {"datum": 3146.5}}},
{"data": {"values": [{"v": -1000}, {"v": 0}, {"v": 1000}, {"v": 2000}, {"v": 3000}]},
 "mark": {"type": "rule", "color": "#eaf2f3", "strokeWidth": 1.5},
 "encoding": {"x": {"datum": 18.9404, "type": "quantitative"}, "x2": {"datum": 81.0212}, "y": {"field": "v", "type": "quantitative"}}},
{"data": {"values": [{"x": 13.3232, "lo": 3436.2, "hi": 3436.2}, {"x": 26, "lo": -1102, "hi": 1129}]},
 "mark": {"type": "area", "opacity": 1},
 "encoding": {"x": {"field": "x", "type": "quantitative"}, "y": {"field": "hi", "type": "quantitative"}, "y2": {"field": "lo"},
  "color": {"datum": "95% CI", "type": "nominal",
   "scale": {"domain": ["95% CI", "Fitted values", "psmatch2: value of totcoffsupp of match(es)"], "range": ["#bebebe", "#1a476f", "#55752f"]},
   "legend": {"symbolType": {"expr": "datum.value === '95% CI' ? 'M-1.35,-1.4H8.25V1.4H-1.35Z' : datum.value === 'Fitted values' ? 'M-1.35,-0.12H8.25V0.12H-1.35Z' : 'M3.95,0A0.5,0.5,0,1,1,2.95,0A0.5,0.5,0,1,1,3.95,0Z'"}, "symbolFillColor": {"expr": "datum.value === '95% CI' ? '#bebebe' : datum.value === 'Fitted values' ? '#1a476f' : '#55752f'"}}}}},
{"data": {"values": [{"x":26,"lo":-1102,"hi":1129},{"x":30.4,"lo":-753,"hi":1478},{"x":34.8,"lo":-457,"hi":1747},{"x":40,"lo":-215,"hi":1989},{"x":45.9,"lo":27,"hi":2204},{"x":50.3,"lo":177,"hi":2323},{"x":55.2,"lo":258,"hi":2382},{"x":60,"lo":269,"hi":2392},{"x":64.9,"lo":215,"hi":2376},{"x":70.2,"lo":81,"hi":2301},{"x":74.6,"lo":-70,"hi":2231},{"x":78.1,"lo":-242,"hi":2177}]},
 "mark": {"type": "area", "interpolate": "monotone", "opacity": 1},
 "encoding": {"x": {"field": "x", "type": "quantitative"}, "y": {"field": "hi", "type": "quantitative"}, "y2": {"field": "lo"}, "color": {"datum": "95% CI", "type": "nominal"}}},
{"data": {"values": [{"x":26,"y":11},{"x":30.4,"y":376},{"x":34.8,"y":680},{"x":40,"y":900},{"x":45.9,"y":1120},{"x":50.3,"y":1250},{"x":55.2,"y":1315},{"x":60,"y":1332},{"x":64.9,"y":1295},{"x":70.2,"y":1190},{"x":74.6,"y":1078},{"x":78.1,"y":968}]},
 "mark": {"type": "line", "interpolate": "monotone", "strokeWidth": 1.2},
 "encoding": {"x": {"field": "x", "type": "quantitative"}, "y": {"field": "y", "type": "quantitative"}, "color": {"datum": "Fitted values", "type": "nominal"}}},
{"data": {"values": [{"x":50,"y":2409},{"x":51.1,"y":2409},{"x":55,"y":2409},{"x":58,"y":2409},{"x":45,"y":1973},{"x":46.1,"y":1973},{"x":48,"y":1973},{"x":49,"y":1973},{"x":51.1,"y":1973},{"x":55,"y":1973},{"x":58,"y":1973},{"x":59,"y":1973},{"x":60,"y":1973},{"x":62,"y":1973},{"x":65,"y":1990},{"x":65,"y":2020},{"x":35.9,"y":1435},{"x":36.9,"y":1435},{"x":40,"y":1435},{"x":43,"y":1435},{"x":45,"y":1435},{"x":46.1,"y":1435},{"x":49,"y":1435},{"x":50.1,"y":1435},{"x":55,"y":1435},{"x":56,"y":1435},{"x":58,"y":1408},{"x":59,"y":1435},{"x":65,"y":1435},{"x":41,"y":1048},{"x":42,"y":1048},{"x":47.1,"y":1048},{"x":48,"y":1048},{"x":49,"y":1048},{"x":50.1,"y":1048},{"x":65,"y":1048},{"x":67,"y":1048},{"x":32,"y":726},{"x":35,"y":957},{"x":35,"y":844},{"x":35,"y":565},{"x":35,"y":511},{"x":35,"y":403},{"x":36,"y":876},{"x":36,"y":538},{"x":36,"y":387},{"x":37,"y":887},{"x":37,"y":473},{"x":37,"y":366},{"x":38,"y":860},{"x":38,"y":753},{"x":38,"y":457},{"x":38.9,"y":930},{"x":38.9,"y":887},{"x":38.9,"y":538},{"x":38.9,"y":500},{"x":40,"y":887},{"x":40,"y":511},{"x":41,"y":753},{"x":41,"y":645},{"x":41,"y":565},{"x":41,"y":484},{"x":42,"y":833},{"x":42,"y":618},{"x":42,"y":565},{"x":43,"y":446},{"x":45,"y":887},{"x":45,"y":780},{"x":45,"y":726},{"x":45,"y":548},{"x":45,"y":511},{"x":45,"y":419},{"x":47.1,"y":565},{"x":48,"y":538},{"x":49,"y":661},{"x":50.1,"y":871},{"x":50.1,"y":726},{"x":50.1,"y":629},{"x":51.1,"y":833},{"x":52,"y":833},{"x":52,"y":575},{"x":54,"y":575},{"x":55,"y":645},{"x":55,"y":575},{"x":56,"y":726},{"x":59,"y":575},{"x":60,"y":548},{"x":62,"y":790},{"x":65,"y":575},{"x":73,"y":575},{"x":78,"y":575},{"x":26,"y":581},{"x":27,"y":392},{"x":28,"y":392},{"x":34,"y":565}]},
 "mark": {"type": "point", "filled": true, "size": 22, "opacity": 1},
 "encoding": {"x": {"field": "x", "type": "quantitative"}, "y": {"field": "y", "type": "quantitative"}, "color": {"datum": "psmatch2: value of totcoffsupp of match(es)", "type": "nominal"}}},
{"mark": {"type": "rule", "color": "black", "strokeWidth": 1},
 "encoding": {"x": {"datum": 18.9404, "type": "quantitative"}, "y": {"datum": -1130.7, "type": "quantitative"}, "y2": {"datum": 3146.5}}},
{"mark": {"type": "rule", "color": "black", "strokeWidth": 1},
 "encoding": {"x": {"datum": 18.9404, "type": "quantitative"}, "x2": {"datum": 81.0212}, "y": {"datum": -1130.7, "type": "quantitative"}}}
]
}
],
"spacing": 12.8,
"resolve": {"scale": {"color": "independent"}, "legend": {"color": "independent"}}
}
]
}
